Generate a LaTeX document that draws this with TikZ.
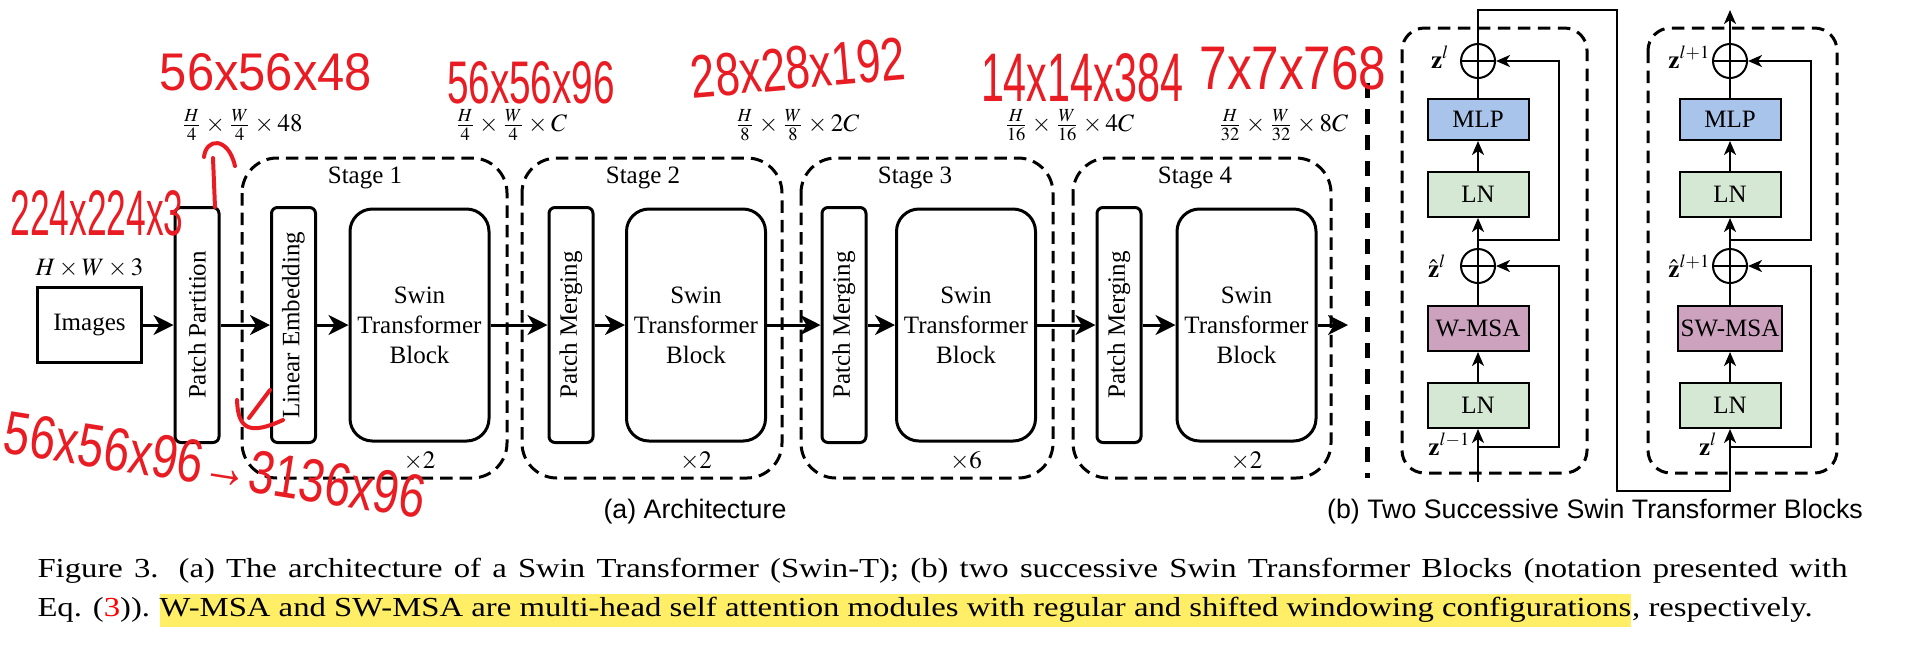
\documentclass[tikz,border=0pt]{standalone}
\usepackage{mathptmx}
\usepackage{fontspec}
\setmainfont{Liberation Serif}
\setsansfont{Liberation Sans}
\newfontfamily\capfont[FakeStretch=1.19]{Liberation Serif}
\usepackage{graphicx}
\usetikzlibrary{arrows.meta,positioning}

\definecolor{mlpfill}{HTML}{A9C4EB}
\definecolor{lnfill}{HTML}{D5E8D4}
\definecolor{msafill}{HTML}{CDA2BE}
\definecolor{hlyellow}{HTML}{FFEE66}
\definecolor{inkred}{RGB}{232,28,34}

\tikzset{
    imgbox/.style={draw,line width=1.2pt,minimum width=41.2pt,minimum height=30pt,inner sep=0pt},
    thinbox/.style={draw,line width=1.2pt,rounded corners=2.4pt,minimum width=94pt,minimum height=17.6pt,inner sep=0pt,rotate=90},
    swinbox/.style={draw,line width=1.2pt,rounded corners=9pt,minimum width=55.6pt,minimum height=92.8pt,inner sep=0pt,align=center},
    stagebox/.style={line width=1.2pt,dash pattern=on 5pt off 2.8pt,rounded corners=14pt},
    blockbox/.style={line width=1.2pt,dash pattern=on 5pt off 3pt,rounded corners=9pt},
    sepline/.style={line width=2pt,dash pattern=on 6pt off 4.4pt},
    flow/.style={line width=1.2pt,-{Stealth[length=8pt,width=8pt,inset=2.4pt]}},
    layer/.style={draw,line width=0.8pt,minimum width=40.4pt,minimum height=18pt,inner xsep=1pt,inner ysep=0pt},
    lnbox/.style={layer,fill=lnfill},
    msabox/.style={layer,fill=msafill},
    mlpbox/.style={layer,fill=mlpfill,minimum height=16.4pt},
    addop/.style={circle,draw,line width=0.8pt,minimum size=13.6pt,inner sep=0pt,
        path picture={\draw[line width=0.8pt] (path picture bounding box.north) -- (path picture bounding box.south)
            (path picture bounding box.west) -- (path picture bounding box.east);}},
    resline/.style={line width=0.8pt},
    resflow/.style={line width=0.8pt,-{Stealth[length=5.6pt,width=4.8pt,inset=1.6pt]}},
    redink/.style={inkred,line width=1.6pt,line cap=round,line join=round},
    redtext/.style={text=inkred,inner sep=0pt,font=\sffamily},
    subcap/.style={font=\sffamily\fontsize{10.7}{12.8}\selectfont},
    capline/.style={inner sep=0pt,font=\capfont\fontsize{11}{13}\selectfont}
}

\begin{document}
\begin{tikzpicture}[x=0.4pt,y=-0.4pt]
\useasboundingbox (0,0) rectangle (1912,649);

% (a) architecture
\node[imgbox] (img) at (89.5,325) {Images};
\node[above=0pt of img] (imgdim) {$H\times W\times 3$};

\node[thinbox] (pp) at (197,325) {Patch Partition};
\node[thinbox] (le) at (293.5,325) {Linear Embedding};
\node[swinbox] (sw1) at (419.5,325) {Swin\\Transformer\\Block};
\node[thinbox] (pm2) at (571,325) {Patch Merging};
\node[swinbox] (sw2) at (696,325) {Swin\\Transformer\\Block};
\node[thinbox] (pm3) at (844,325) {Patch Merging};
\node[swinbox] (sw3) at (966,325) {Swin\\Transformer\\Block};
\node[thinbox] (pm4) at (1119,325) {Patch Merging};
\node[swinbox] (sw4) at (1246.5,325) {Swin\\Transformer\\Block};
\coordinate (out) at (1348,325);

\node[below=0pt of sw1] (rep1) {$\times 2$};
\node[below=0pt of sw2] (rep2) {$\times 2$};
\node[below=0pt of sw3] (rep3) {$\times 6$};
\node[below=0pt of sw4] (rep4) {$\times 2$};

% stages
\draw[stagebox] (242,158) rectangle (507,478);
\draw[stagebox] (522,158) rectangle (782,478);
\draw[stagebox] (801,158) rectangle (1053,478);
\draw[stagebox] (1073,158) rectangle (1331,478);
\node (st1) at (365,178) {Stage 1};
\node (st2) at (643,178) {Stage 2};
\node (st3) at (915,178) {Stage 3};
\node (st4) at (1195,178) {Stage 4};

\node (dim1) at (242,125) {$\frac{H}{4}\times\frac{W}{4}\times 48$};
\node (dim2) at (511,125) {$\frac{H}{4}\times\frac{W}{4}\times C$};
\node (dim3) at (797,125) {$\frac{H}{8}\times\frac{W}{8}\times 2C$};
\node (dim4) at (1069,125) {$\frac{H}{16}\times\frac{W}{16}\times 4C$};
\node (dim5) at (1283,125) {$\frac{H}{32}\times\frac{W}{32}\times 8C$};

\draw[flow] (img) -- (pp);
\draw[flow] (pp) -- (le);
\draw[flow] (le) -- (sw1);
\draw[flow] (sw1) -- (pm2);
\draw[flow] (pm2) -- (sw2);
\draw[flow] (sw2) -- (pm3);
\draw[flow] (pm3) -- (sw3);
\draw[flow] (sw3) -- (pm4);
\draw[flow] (pm4) -- (sw4);
\draw[flow] (sw4) -- (out);

\draw[sepline] (1367,83) -- (1367,478);

% (b) two successive blocks
\draw[blockbox] (1402,28) rectangle (1587,473);
\draw[blockbox] (1648,28) rectangle (1837,473);

\node[lnbox] (ln1a) at (1478,405.5) {LN};
\node[msabox] (msa1) at (1478,328.5) {W-MSA};
\node[addop] (add1a) at (1478,266) {};
\node[lnbox] (ln1b) at (1478,194.5) {LN};
\node[mlpbox] (mlp1) at (1478,119.5) {MLP};
\node[addop] (add1b) at (1478,61) {};

\node[lnbox] (ln2a) at (1730,405.5) {LN};
\node[msabox] (msa2) at (1730,328.5) {SW-MSA};
\node[addop] (add2a) at (1730,266) {};
\node[lnbox] (ln2b) at (1730,194.5) {LN};
\node[mlpbox] (mlp2) at (1730,119.5) {MLP};
\node[addop] (add2b) at (1730,61) {};

\coordinate (in1) at (1478,482);
\coordinate (fork1a) at (1478,447);
\coordinate (fork1b) at (1478,240);
\coordinate (top1) at (1478,10);
\coordinate (turn1) at (1617,10);
\coordinate (turn2) at (1617,491);
\coordinate (in2) at (1730,491);
\coordinate (fork2a) at (1730,447);
\coordinate (fork2b) at (1730,240);
\coordinate (top2) at (1730,10);

\draw[resflow] (in1) -- (ln1a);
\draw[resflow] (fork1a) -- ++(81,0) |- (add1a.east);
\draw[resflow] (ln1a) -- (msa1);
\draw[resline] (msa1) -- (add1a);
\draw[resflow] (add1a) -- (ln1b);
\draw[resflow] (fork1b) -- ++(81,0) |- (add1b.east);
\draw[resflow] (ln1b) -- (mlp1);
\draw[resline] (mlp1) -- (add1b);
\draw[resflow] (add1b) -- (top1) -- (turn1) -- (turn2) -- (in2) -- (ln2a);

\draw[resflow] (fork2a) -- ++(81,0) |- (add2a.east);
\draw[resflow] (ln2a) -- (msa2);
\draw[resline] (msa2) -- (add2a);
\draw[resflow] (add2a) -- (ln2b);
\draw[resflow] (fork2b) -- ++(81,0) |- (add2b.east);
\draw[resflow] (ln2b) -- (mlp2);
\draw[resline] (mlp2) -- (add2b);
\draw[resflow] (add2b) -- (top2);

\node[anchor=base east,inner sep=0pt] (z1b) at (1450,68) {$\mathbf{z}^{l}$};
\node[anchor=base east,inner sep=0pt] (z1a) at (1447,277) {$\hat{\mathbf{z}}^{l}$};
\node[anchor=base east,inner sep=0pt] (z1in) at (1471,455) {$\mathbf{z}^{l-1}$};
\node[anchor=base east,inner sep=0pt] (z2b) at (1711,68) {$\mathbf{z}^{l+1}$};
\node[anchor=base east,inner sep=0pt] (z2a) at (1711,277) {$\hat{\mathbf{z}}^{l+1}$};
\node[anchor=base east,inner sep=0pt] (z2in) at (1718,455) {$\mathbf{z}^{l}$};

% sub captions
\node[subcap] (capa) at (695,512) {(a) Architecture};
\node[subcap] (capb) at (1595,512) {(b) Two Successive Swin Transformer Blocks};

% figure caption
\node[capline,anchor=base west] (cap1) at (37,577) {\makebox[724pt][s]{Figure 3. (a) The architecture of a Swin Transformer (Swin-T); (b) two successive Swin Transformer Blocks (notation presented with}};
\node[capline,anchor=base west] (cap2a) at (37,616) {Eq. (\textcolor{red}{3})).};
\node[capline,anchor=base west,fill=hlyellow,text height=8.8pt,text depth=4.4pt,xshift=3.4pt] (cap2b) at (cap2a.base east) {W-MSA and SW-MSA are multi-head self attention modules with regular and shifted windowing configurations};
\node[capline,anchor=base west] (cap2c) at (cap2b.base east) {, respectively.};

% red notes
\node[redtext] (r48) at (266,72) {\resizebox{84.8pt}{14.8pt}{56x56x48}};
\node[redtext] (r96) at (531,83) {\resizebox{67.2pt}{16.8pt}{56x56x96}};
\node[redtext,rotate=5] (r192) at (798,68) {\resizebox{86pt}{17pt}{28x28x192}};
\node[redtext] (r384) at (1082,78) {\resizebox{80.8pt}{19.2pt}{14x14x384}};
\node[redtext] (r768) at (1293,68) {\resizebox{74.8pt}{17.2pt}{7x7x768}};
\node[redtext] (r3) at (97,213) {\resizebox{69.2pt}{18pt}{224x224x3}};
\node[redtext,rotate=-9] (r3136) at (215,465) {\resizebox{170pt}{17pt}{56x56x96→3136x96}};
\draw[redink] (215,207) -- (213,158);
\draw[redink] (204,157) .. controls (206,138) and (228,136) .. (235,166);
\draw[redink] (237,400) .. controls (238,430) and (250,435) .. (283,420);
\draw[redink] (270,390) -- (249,418);

\end{tikzpicture}
\end{document}
